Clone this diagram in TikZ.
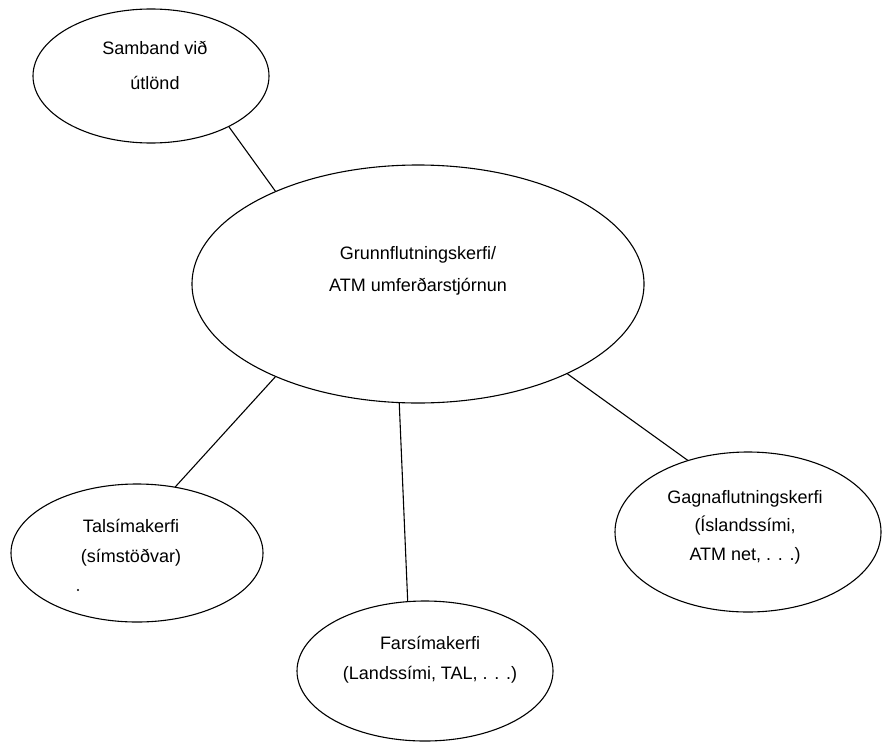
\documentclass[tikz,border=0pt]{standalone}
\usepackage{fontspec}
\setmainfont{Liberation Sans}
\usetikzlibrary{shapes.geometric}
\begin{document}
\begin{tikzpicture}[x=1pt,y=-1pt,
  oval/.style={draw=black, line width=1.1pt, ellipse, inner sep=0pt, outer sep=0pt},
  lbl/.style={align=center, inner sep=0pt, font=\fontsize{18}{30}\selectfont},
  link/.style={draw=black, line width=1.1pt}]
\useasboundingbox (0,0) rectangle (882,744);
\node[oval, minimum width=236pt, minimum height=134pt] (samband) at (151,76) {};
\node[oval, minimum width=452pt, minimum height=238pt] (grunn) at (418,284) {};
\node[oval, minimum width=252pt, minimum height=138pt] (tals) at (137,553) {};
\node[oval, minimum width=256pt, minimum height=140pt] (fars) at (425,671) {};
\node[oval, minimum width=266pt, minimum height=160pt] (gagna) at (748,532) {};

\node[lbl, font=\fontsize{18}{35}\selectfont] (tsamband) at (155,65) {Samband við\\útlönd};
\node[lbl, font=\fontsize{18}{32}\selectfont] (tgrunn) at (418,271) {Grunnflutningskerfi/\\ATM umferðarstjórnun};
\node[lbl] (ttals) at (131,543) {Talsímakerfi\\(símstöðvar)};
\node[lbl] (tfars) at (430,660) {Farsímakerfi\\(Landssími, TAL, . . .)};
\node[lbl, font=\fontsize{18}{28.5}\selectfont] (tgagna) at (745,527) {Gagnaflutningskerfi\\(Íslandssími,\\ATM net, . . .)};

\path[link] (samband.-33.2) -- (grunn.147);
\path[link] (grunn.213.4) -- (tals.60.4);
\path[link] (grunn.261.4) -- (fars.104.4);
\path[link] (grunn.-31.8) -- (gagna.130.8);

\coordinate (speck) at (78,590);
\fill[black] (speck) circle (1.2pt);
\end{tikzpicture}
\end{document}
